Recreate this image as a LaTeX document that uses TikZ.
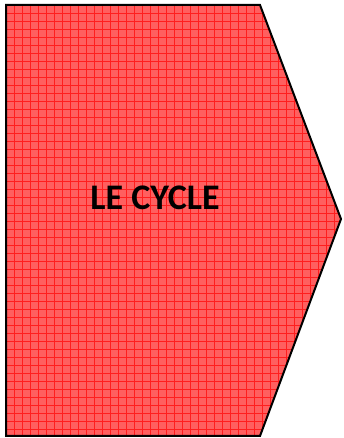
\documentclass[tikz,border=0pt]{standalone}
\usepackage{fontspec}
\setmainfont{Carlito}
\definecolor{fillred}{RGB}{255,95,95}
\definecolor{gridred}{RGB}{255,30,30}
\tikzset{
  arrowshape/.style={draw=black, line width=2pt, line join=miter, fill=fillred},
  gridline/.style={gridred, line width=0.9pt},
  label/.style={font=\bfseries\fontsize{36}{43}\selectfont, text=black}
}
\begin{document}
\begin{tikzpicture}[x=1pt,y=1pt]
\useasboundingbox (0,0) rectangle (343,438);
\coordinate (tl) at (6,433);
\coordinate (tr) at (260,433);
\coordinate (tip) at (341,219);
\coordinate (br) at (260,2);
\coordinate (bl) at (6,2);
\fill[fillred] (tl) -- (tr) -- (tip) -- (br) -- (bl) -- cycle;
\begin{scope}
\clip (tl) -- (tr) -- (tip) -- (br) -- (bl) -- cycle;
\foreach \i in {0,...,43} {
  \draw[gridline] (6+8*\i,0) -- (6+8*\i,438);
}
\foreach \j in {0,...,55} {
  \draw[gridline] (0,433-8*\j) -- (343,433-8*\j);
}
\end{scope}
\draw[arrowshape, fill=none] (tl) -- (tr) -- (tip) -- (br) -- (bl) -- cycle;
\node[label] (title) at (155,240) {LE CYCLE};
\end{tikzpicture}
\end{document}
